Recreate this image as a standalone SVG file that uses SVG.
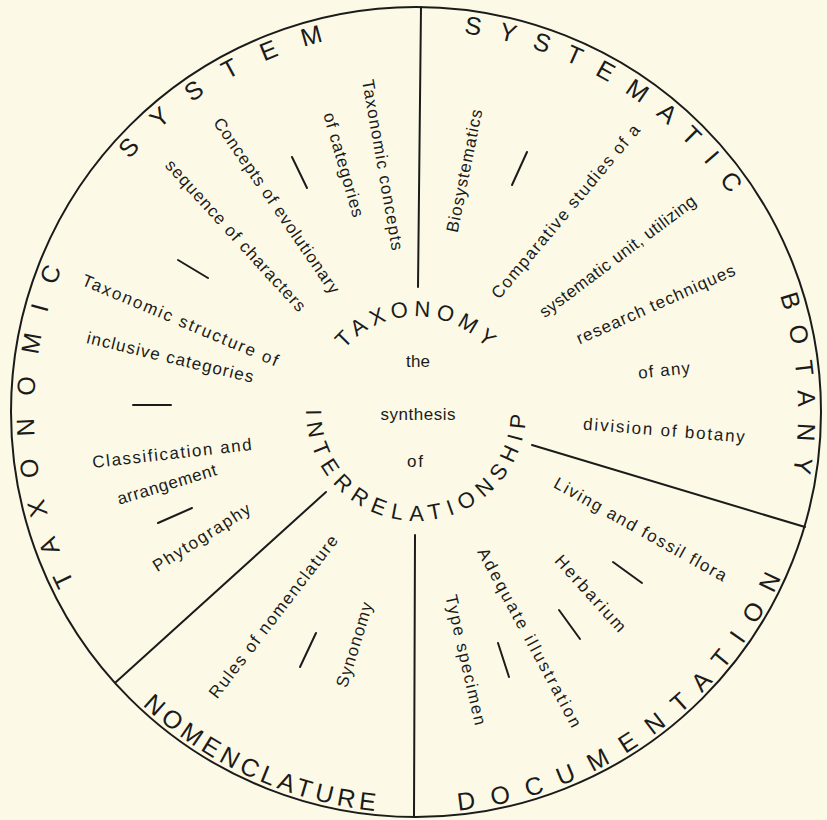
<svg xmlns="http://www.w3.org/2000/svg" width="827" height="820" viewBox="0 0 827 820">
<defs>
<style>
.bg{fill:#fcfae6}
.ln{stroke:#1b1b1b;stroke-width:2;fill:none;stroke-linecap:round}
.t{font-family:'Liberation Sans',Arial,sans-serif;fill:#1b1b1b}
.cap{font-size:25px}
.icap{font-size:22px}
.lab{font-size:17px}
</style>
<path id="pTaxonomic" d="M 364.8 790.6 A 382 382 0 0 1 334.6 38.8"/>
<path id="pSystem" d="M 60.1 550.8 A 382 382 0 0 1 703.0 159.9"/>
<path id="pSystematic" d="M 128.6 160.4 A 382 382 0 0 1 772.1 550.1"/>
<path id="pBotany" d="M 453.9 31.9 A 382 382 0 0 1 510.4 782.2"/>
<path id="pNomenclature" d="M 27.7 311.9 A 401 401 0 0 0 746.7 638.8"/>
<path id="pDocumentation" d="M 136.7 699.7 A 401 401 0 0 0 776.9 237.2"/>
<path id="pTaxonomy" d="M 321.8 403.4 A 94.5 94.5 0 0 1 510.1 402.1"/>
<path id="pInterrel" d="M 322.1 353.7 A 110 110 0 1 0 512.6 358.3"/>
</defs>
<rect class="bg" x="0" y="0" width="827" height="820"/>
<g id="ring">
<circle class="ln" cx="416" cy="412" r="405"/>
</g>
<g id="connectors">
<line class="ln" x1="421" y1="7" x2="418" y2="287"/>
<line class="ln" x1="415" y1="535" x2="414" y2="817"/>
<line class="ln" x1="532" y1="445" x2="805" y2="527"/>
<line class="ln" x1="326" y1="492" x2="116" y2="682"/>
<line class="ln" x1="292" y1="157" x2="307" y2="188"/>
<line class="ln" x1="178" y1="260" x2="208" y2="278"/>
<line class="ln" x1="133" y1="405" x2="171" y2="405"/>
<line class="ln" x1="158" y1="523" x2="192" y2="508"/>
<line class="ln" x1="300" y1="667" x2="316" y2="633"/>
<line class="ln" x1="527" y1="152" x2="512" y2="185"/>
<line class="ln" x1="613" y1="562" x2="642" y2="583"/>
<line class="ln" x1="559" y1="610" x2="580" y2="639"/>
<line class="ln" x1="498" y1="643" x2="509" y2="677"/>
</g>
<g id="center-taxonomy">
<text class="t icap" text-anchor="middle"><textPath href="#pTaxonomy" startOffset="50%" textLength="161" lengthAdjust="spacing">TAXONOMY</textPath></text>
<text class="t icap" text-anchor="middle"><textPath href="#pInterrel" startOffset="50%" textLength="343" lengthAdjust="spacing">INTERRELATIONSHIP</textPath></text>
<text class="t lab" text-anchor="middle" x="418" y="367" textLength="24">the</text>
<text class="t lab" text-anchor="middle" x="418" y="420" textLength="75">synthesis</text>
<text class="t lab" text-anchor="middle" x="415" y="467" textLength="16">of</text>
</g>
<g id="sector-taxonomic-system">
<text class="t cap" text-anchor="middle"><textPath href="#pTaxonomic" startOffset="50%" textLength="324" lengthAdjust="spacing">TAXONOMIC</textPath></text>
<text class="t cap" text-anchor="middle"><textPath href="#pSystem" startOffset="50%" textLength="231" lengthAdjust="spacing">SYSTEM</textPath></text>
<text class="t lab" text-anchor="middle" y="5" transform="translate(382 165) rotate(80)" textLength="173">Taxonomic concepts</text>
<text class="t lab" text-anchor="middle" y="5" transform="translate(343 165) rotate(73.9)" textLength="108">of categories</text>
<text class="t lab" text-anchor="middle" y="5" transform="translate(276 206) rotate(55.5)" textLength="209">Concepts of evolutionary</text>
<text class="t lab" text-anchor="middle" y="5" transform="translate(235 236) rotate(47.6)" textLength="199">sequence of characters</text>
<text class="t lab" text-anchor="middle" y="5" transform="translate(180 321) rotate(22.8)" textLength="211">Taxonomic structure of</text>
<text class="t lab" text-anchor="middle" y="5" transform="translate(170 358) rotate(13.5)" textLength="171">inclusive categories</text>
<text class="t lab" text-anchor="middle" y="5" transform="translate(172 454) rotate(-6.5)" textLength="160">Classification and</text>
<text class="t lab" text-anchor="middle" y="5" transform="translate(167 485) rotate(-16.9)" textLength="103">arrangement</text>
<text class="t lab" text-anchor="middle" y="5" transform="translate(202 538) rotate(-32.3)" textLength="112">Phytography</text>
</g>
<g id="sector-nomenclature">
<text class="t cap" text-anchor="middle"><textPath href="#pNomenclature" startOffset="50%" textLength="260" lengthAdjust="spacing">NOMENCLATURE</textPath></text>
<text class="t lab" text-anchor="middle" y="5" transform="translate(274 617) rotate(-52.5)" textLength="200">Rules of nomenclature</text>
<text class="t lab" text-anchor="middle" y="5" transform="translate(355 645) rotate(-72.8)" textLength="88">Synonomy</text>
</g>
<g id="sector-systematic-botany">
<text class="t cap" text-anchor="middle"><textPath href="#pSystematic" startOffset="50%" textLength="320" lengthAdjust="spacing">SYSTEMATIC</textPath></text>
<text class="t cap" text-anchor="middle"><textPath href="#pBotany" startOffset="50%" textLength="180" lengthAdjust="spacing">BOTANY</textPath></text>
<text class="t lab" text-anchor="middle" y="5" transform="translate(465 171) rotate(-78.5)" textLength="125">Biosystematics</text>
<text class="t lab" text-anchor="middle" y="5" transform="translate(566 212) rotate(-50.1)" textLength="221">Comparative studies of a</text>
<text class="t lab" text-anchor="middle" y="5" transform="translate(618 257) rotate(-36.9)" textLength="191">systematic unit, utilizing</text>
<text class="t lab" text-anchor="middle" y="5" transform="translate(656 305) rotate(-24)" textLength="172">research techniques</text>
<text class="t lab" text-anchor="middle" y="5" transform="translate(664 371) rotate(-6)" textLength="52">of any</text>
<text class="t lab" text-anchor="middle" y="5" transform="translate(664 431) rotate(4.6)" textLength="162">division of botany</text>
</g>
<g id="sector-documentation">
<text class="t cap" text-anchor="middle"><textPath href="#pDocumentation" startOffset="50%" textLength="417" lengthAdjust="spacing">DOCUMENTATION</textPath></text>
<text class="t lab" text-anchor="middle" y="5" transform="translate(640 530) rotate(29.2)" textLength="195">Living and fossil flora</text>
<text class="t lab" text-anchor="middle" y="5" transform="translate(590 594) rotate(47.9)" textLength="97">Herbarium</text>
<text class="t lab" text-anchor="middle" y="5" transform="translate(529 638) rotate(61.8)" textLength="201">Adequate illustration</text>
<text class="t lab" text-anchor="middle" y="5" transform="translate(465 660) rotate(77)" textLength="133">Type specimen</text>
</g>
</svg>
